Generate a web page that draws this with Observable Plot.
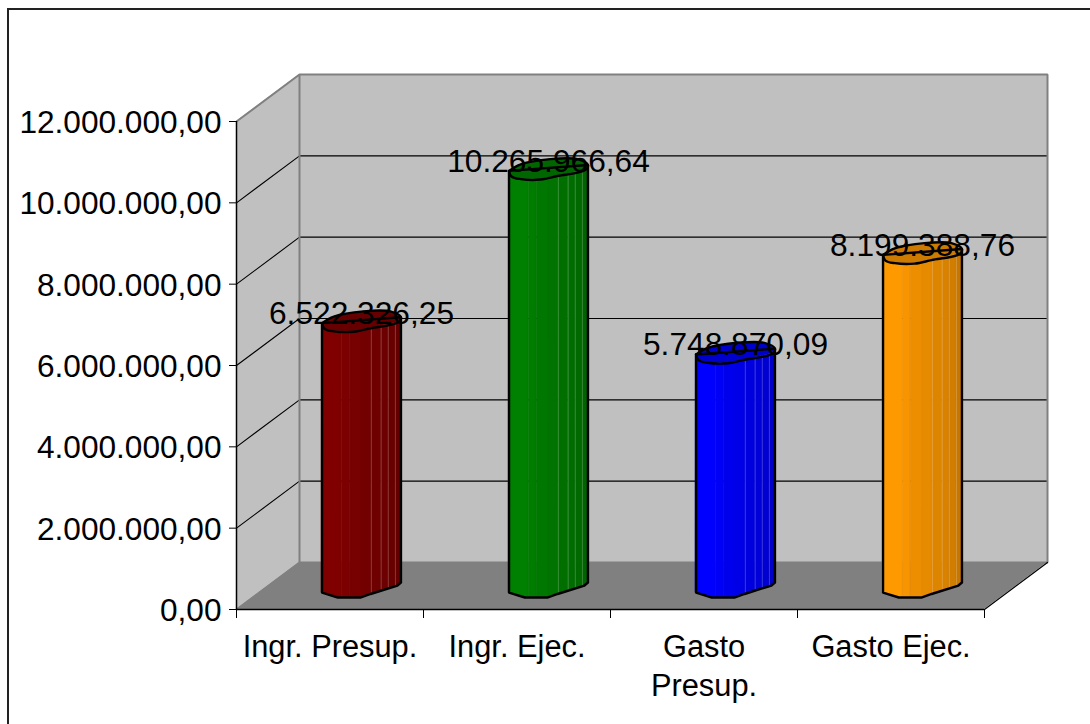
<!DOCTYPE html>
<html>
<head>
<meta charset="utf-8">
<script src="https://cdn.jsdelivr.net/npm/d3@7"></script>
<script src="https://cdn.jsdelivr.net/npm/@observablehq/plot@0.6"></script>
<style>
html,body{margin:0;padding:0;background:#fff;width:1090px;height:724px;overflow:hidden}
#frame{position:absolute;left:7px;top:8px;width:1083px;height:716px;border-top:2px solid #222;border-left:2px solid #222;box-sizing:border-box}
#chart{position:absolute;left:0;top:0}
svg{display:block;background:transparent!important}
</style>
</head>
<body>
<div id="frame"></div>
<div id="chart"></div>
<script>
// Data
const categories = ["Ingr. Presup.", "Ingr. Ejec.", "Gasto\nPresup.", "Gasto Ejec."];
const values = [6522326.25, 10265966.64, 5748870.09, 8199388.76];
const barColors = ["#800000", "#008000", "#0000ff", "#ff9900"];
const yTicks = [0, 2000000, 4000000, 6000000, 8000000, 10000000, 12000000];

// 3D projection, in data units
const depthX = 63 / 187;
const depthY = 47 / 488 * 12000000;
const yMax = 12000000;
const halfWidth = 0.211;
const nCat = categories.length;

const fmt = d3.formatLocale({decimal: ",", thousands: ".", grouping: [3], currency: ["", ""]}).format(",.2f");

// Bar cross-section, as fractions of half width / half depth
const frontTop = [[-1,.1],[-.94,.34],[-.7,.45],[-.2,.47],[.23,.32],[.94,.06],[1,-.15]];
const frontBottom = [[-1,.28],[-.6,.49],[-.03,.49],[.23,.34],[.91,-.02],[1,-.15]];
const backTop = [[.73,-.4],[.05,-.4],[-.7,-.18]];
const facetEdges = [-1,-.5,-.3,0,.25,.5,.68,.86,1];
const facetShades = [1,.97,.93,.9,.87,.85,.82,.78];
const seamEdges = [.25,.5,.68,.86];

const lerpCurve = (curve, u) => {
  for (let i = 1; i < curve.length; i++) {
    const [a, va] = curve[i - 1], [b, vb] = curve[i];
    if (u <= b) return va + (vb - va) * (u - a) / (b - a);
  }
  return curve[curve.length - 1][1];
};
const shade = (c, k) => { const r = d3.rgb(c); return d3.rgb(r.r * k, r.g * k, r.b * k).formatHex(); };
const cx = i => i + 0.5 + depthX / 2;
const sx = (i, u) => cx(i) + u * halfWidth;
const sy = (val, v) => val + depthY / 2 - v * depthY / 2;

// Build bar geometry from values
const facets = [], seams = [], outlines = [], rings = [];
values.forEach((val, i) => {
  facetEdges.slice(0, -1).forEach((a, k) => {
    const b = facetEdges[k + 1];
    const us = [...new Set([a, b, ...frontTop.concat(frontBottom).map(d => d[0]).filter(u => u > a && u < b)])].sort(d3.ascending);
    const fill = shade(barColors[i], facetShades[k]);
    us.forEach(u => facets.push({id: `${i}-${k}`, fill, x: sx(i, u), y1: sy(0, lerpCurve(frontBottom, u)), y2: sy(val, lerpCurve(frontTop, u))}));
  });
  seamEdges.forEach((u, k) => {
    seams.push({id: `${i}-${k}`, x: sx(i, u), y: sy(0, lerpCurve(frontBottom, u))});
    seams.push({id: `${i}-${k}`, x: sx(i, u), y: sy(val, lerpCurve(frontTop, u))});
  });
  frontBottom.forEach(([u, v]) => outlines.push({i, x: sx(i, u), y: sy(0, v)}));
  outlines.push({i, x: sx(i, 1), y: sy(val, -.15)});
  outlines.push({i, x: sx(i, -1), y: sy(val, .1)});
  outlines.push({i, x: sx(i, -1), y: sy(0, .28)});
  frontTop.concat(backTop, [frontTop[0]]).forEach(([u, v]) => rings.push({i, x: sx(i, u), y: sy(val, v)}));
});
const ringFill = [];
values.forEach((val, i) => {
  const lowerCurve = frontTop;
  const upperCurve = [[-1,.1],[-.7,-.18],[.05,-.4],[.73,-.4],[1,-.15]];
  [...new Set(lowerCurve.concat(upperCurve).map(d => d[0]))].sort(d3.ascending).forEach(u =>
    ringFill.push({i, x: sx(i, u), y1: sy(val, lerpCurve(lowerCurve, u)), y2: sy(val, lerpCurve(upperCurve, u))}));
});

const leftWall = [{x: 0, y1: 0, y2: yMax}, {x: depthX, y1: depthY, y2: yMax + depthY}];
const backWall = [{x: depthX, y1: depthY, y2: yMax + depthY}, {x: nCat + depthX, y1: depthY, y2: yMax + depthY}];
const floor = [{x: 0, y1: 0, y2: 0}, {x: depthX, y1: 0, y2: depthY}, {x: nCat, y1: 0, y2: depthY}, {x: nCat + depthX, y1: depthY, y2: depthY}];
const gridPts = yTicks.filter(t => t > 0 && t < yMax).flatMap(t => [
  {t, x: 0, y: t}, {t, x: depthX, y: t + depthY}, {t, x: nCat + depthX, y: t + depthY}]);
const wallEdge = [
  {x: 0, y: 0}, {x: depthX, y: depthY}, {x: depthX, y: yMax + depthY}, {x: 0, y: yMax}, 
  {x: depthX, y: yMax + depthY}, {x: nCat + depthX, y: yMax + depthY}, {x: nCat + depthX, y: depthY}, {x: depthX, y: depthY}];
const rightDiag = [{x: nCat, y: 0}, {x: nCat + depthX, y: depthY}];

const plot = Plot.plot({
  width: 1090, height: 724,
  marginLeft: 236, marginRight: 106, marginTop: 121, marginBottom: 115,
  style: {fontFamily: "'Liberation Sans', Arial, sans-serif", background: "transparent", color: "#000"},
  x: {type: "linear", domain: [0, nCat], axis: null},
  y: {type: "linear", domain: [0, yMax], axis: null},
  marks: [
    Plot.areaY(leftWall, {x: "x", y1: "y1", y2: "y2", fill: "#c0c0c0"}),
    Plot.areaY(backWall, {x: "x", y1: "y1", y2: "y2", fill: "#c0c0c0"}),
    Plot.areaY(floor, {x: "x", y1: "y1", y2: "y2", fill: "#808080"}),
    Plot.line(gridPts, {x: "x", y: "y", z: "t", stroke: "#000", strokeWidth: 1.1}),
    Plot.line(wallEdge, {x: "x", y: "y", stroke: "#808080", strokeWidth: 2, strokeLinejoin: "miter"}),
    Plot.line(rightDiag, {x: "x", y: "y", stroke: "#000", strokeWidth: 1.2}),
    Plot.ruleY([0], {x1: 0, x2: nCat, stroke: "#000", strokeWidth: 1.5}),
    Plot.ruleX([0], {y1: 0, y2: yMax, stroke: "#000", strokeWidth: 1.5}),
    Plot.axisY({ticks: yTicks, tickFormat: () => "", tickSize: 7, label: null, stroke: "#000"}),
    Plot.text(yTicks, {x: () => 0, y: d => d, text: fmt, fontSize: 31.6, textAnchor: "end", dx: -15, dy: 1.5, fill: "#000"}),
    Plot.axisX({ticks: d3.range(nCat + 1), tickFormat: () => "", tickSize: 9, label: null, stroke: "#000"}),
    Plot.text(categories, {x: (d, i) => i + 0.5, y: () => 0, text: d => d, fontSize: 30.8, lineAnchor: "top", lineHeight: 1.26, dy: 20, fill: "#000"}),
    Plot.areaY(facets, {x: "x", y1: "y1", y2: "y2", z: "id", fill: "fill", stroke: "fill", strokeWidth: .6}),
    Plot.line(seams, {x: "x", y: "y", z: "id", stroke: "#fff", strokeOpacity: .22, strokeWidth: 1}),
    Plot.areaY(ringFill, {x: "x", y1: "y1", y2: "y2", z: "i", fill: d => shade(barColors[d.i], .8)}),
    Plot.line(outlines, {x: "x", y: "y", z: "i", stroke: "#000", strokeWidth: 2.4}),
    Plot.line(rings, {x: "x", y: "y", z: "i", stroke: "#000", strokeWidth: 2.4, curve: "catmull-rom"}),
    Plot.text(values, {x: (d, i) => cx(i), y: d => d + depthY / 2, text: fmt, fontSize: 31.7, dy: -7, fill: "#000"})
  ]
});
document.getElementById("chart").appendChild(plot);
</script>
</body>
</html>
